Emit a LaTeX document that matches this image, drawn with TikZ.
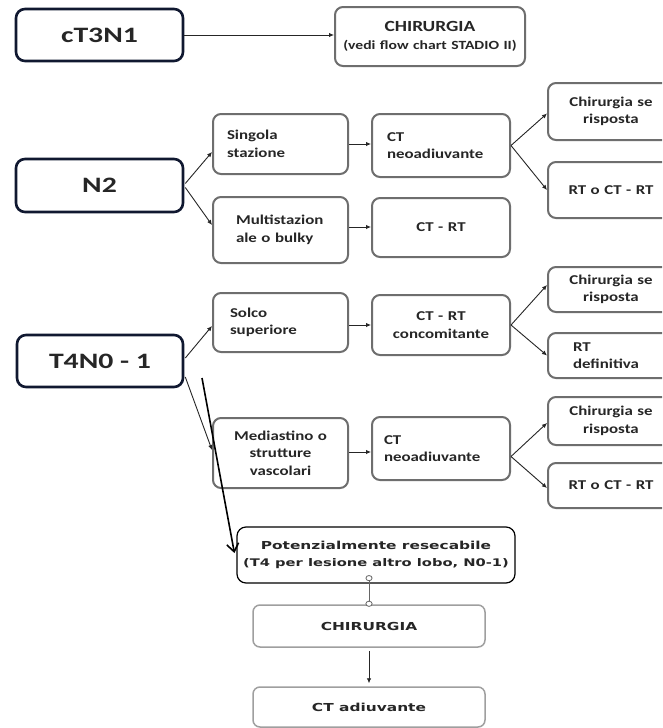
\documentclass[tikz,border=0pt]{standalone}
\usepackage{fontspec}
\setmainfont{Carlito}[FakeStretch=1.25]
\newfontfamily\bigfont{Carlito}[FakeStretch=1.35]
\newfontfamily\vfont{DejaVu Sans}[FakeStretch=1.4]
\usetikzlibrary{arrows.meta,calc}
\definecolor{navy}{HTML}{101830}
\definecolor{boxgray}{HTML}{6E6E6E}
\definecolor{txt}{HTML}{262626}
\begin{document}
\begin{tikzpicture}[x=1pt,y=-1pt,
  mainbox/.style={draw=navy, line width=2.6pt, rounded corners=9pt, fill=white, inner sep=0pt,
    font=\bigfont\bfseries\fontsize{22}{26}\selectfont, text=txt},
  gbox/.style={draw=boxgray, line width=2pt, rounded corners=8pt, fill=white, inner sep=0pt,
    font=\bfseries\fontsize{13.5}{17.5}\selectfont, text=txt, align=center},
  lbox/.style={gbox, align=left},
  vbox/.style={draw=gray!75, line width=1.5pt, rounded corners=7pt, fill=white, inner sep=0pt,
    font=\vfont\bfseries\fontsize{11}{17}\selectfont, text=txt, align=center},
  arr/.style={draw=txt, line width=0.9pt, -{Latex[length=5pt,width=4.5pt]}},
  bigarr/.style={draw=black, line width=1.6pt, -{Straight Barb[length=8pt,width=12pt,line width=1.6pt]}},
  dotlink/.style={draw=gray!80!black, line width=1pt,
    {Circle[open,length=6pt,width=7pt,line width=0.8pt,fill=white]}-{Circle[open,length=6pt,width=7pt,line width=0.8pt,fill=white]}},
]
\useasboundingbox (0,0) rectangle (662,728);
\clip (0,0) rectangle (662,728);
\fill[white] (0,0) rectangle (662,728);

% left column
\node[mainbox, minimum width=167, minimum height=52] (ct3) at (99.5,35) {cT3N1};
\node[mainbox, minimum width=167, minimum height=53] (n2) at (99.5,185.5) {N2};
\node[mainbox, minimum width=166, minimum height=52] (t4) at (100,361) {T4N0 - 1};

% top right
\node[gbox, minimum width=190, minimum height=59, text width=186] (chirtop) at (430,36.5)
  {\fontsize{15.5}{16}\selectfont CHIRURGIA\\[0pt]\fontsize{12.5}{13}\selectfont (vedi flow chart STADIO II)};

% second column
\node[lbox, minimum width=135, minimum height=60, text width=107] (singola) at (280.5,144) {Singola\\stazione};
\node[lbox, minimum width=135, minimum height=66, text width=89] (multi) at (280.5,230) {Multistazion\\ale o bulky};
\node[lbox, minimum width=135, minimum height=59, text width=101] (solco) at (280.5,322.5) {Solco\\superiore};
\node[gbox, minimum width=135, minimum height=70, text width=125] (medi) at (280.5,453) {Mediastino o\\strutture\\vascolari};

% third column
\node[lbox, minimum width=138, minimum height=63, text width=108] (ctneo1) at (441,145.5) {CT\\neoadiuvante};
\node[gbox, minimum width=138, minimum height=59, text width=128] (ctrt) at (441,227.5) {CT - RT};
\node[gbox, minimum width=138, minimum height=60, text width=128] (ctrtc) at (441,325) {CT - RT\\concomitante};
\node[lbox, minimum width=138, minimum height=63, text width=114] (ctneo2) at (441,448.5) {CT\\neoadiuvante};

% right column
\node[gbox, minimum width=126, minimum height=57, text width=116] (chir1) at (611,111.5) {Chirurgia se\\risposta};
\node[gbox, minimum width=126, minimum height=56, text width=116] (rto1) at (611,190) {RT o CT - RT};
\node[gbox, minimum width=126, minimum height=45, text width=116] (chir2) at (611,289.5) {Chirurgia se\\risposta};
\node[lbox, minimum width=126, minimum height=45, text width=76] (rtdef) at (611,355.5) {RT\\definitiva};
\node[gbox, minimum width=126, minimum height=48, text width=116] (chir3) at (611,421) {Chirurgia se\\risposta};
\node[gbox, minimum width=126, minimum height=45, text width=116] (rto3) at (611,485.5) {RT o CT - RT};

% bottom chain
\node[vbox, draw=black, line width=1.2pt, rounded corners=9pt, minimum width=278, minimum height=56] (potenz) at (376,555)
  {Potenzialmente resecabile\\\fontsize{10.5}{17}\selectfont(T4 per lesione altro lobo, N0-1)};
\node[vbox, minimum width=232, minimum height=42] (chirbot) at (369,626) {CHIRURGIA};
\node[vbox, minimum width=232, minimum height=40] (ctadiuv) at (369,707) {CT adiuvante};

% connectors
\draw[arr] (ct3.east) -- (ct3.east -| chirtop.west);

\draw[arr] ($(n2.east)+(1,-2)$) -- ($(singola.west)+(0,8)$);
\draw[arr] ($(n2.east)+(1,2)$) -- ($(multi.west)+(0,-5)$);
\draw[arr] (singola.east) -- (singola.east -| ctneo1.west);
\draw[arr] ($(multi.east)+(0,-3)$) -- ($(multi.east -| ctrt.west)+(0,-3)$);
\draw[arr] (ctneo1.east) -- ($(chir1.west)+(0,2)$);
\draw[arr] (ctneo1.east) -- (rto1.west);

\draw[arr] ($(t4.east)+(1,-3)$) -- ($(solco.west)+(0,3.5)$);
\draw[arr] ($(t4.east)+(1,16)$) -- ($(medi.west)+(0,-3)$);
\draw[arr] ($(solco.east)+(0,2.5)$) -- ($(solco.east -| ctrtc.west)+(0,2.5)$);
\draw[arr] ($(medi.east)+(0,-1)$) -- ($(medi.east -| ctneo2.west)+(0,-1)$);
\draw[arr] (ctrtc.east) -- ($(chir2.west)+(0,-4.5)$);
\draw[arr] (ctrtc.east) -- (rtdef.west);
\draw[arr] ($(ctneo2.east)+(0,8)$) -- ($(chir3.west)+(0,2)$);
\draw[arr] ($(ctneo2.east)+(0,8)$) -- ($(rto3.west)+(0,2.5)$);

\coordinate (bigstart) at (202,378);
\draw[bigarr] (bigstart) -- ($(potenz.west)+(-2,-2)$);

\draw[dotlink] ($(potenz.south -| chirbot.north)+(0,-8.5)$) -- ($(chirbot.north)+(0,2.5)$);
\draw[arr, line width=0.8pt] ($(chirbot.south)+(0,3)$) -- ($(ctadiuv.north)+(0,-3)$);
\end{tikzpicture}
\end{document}
